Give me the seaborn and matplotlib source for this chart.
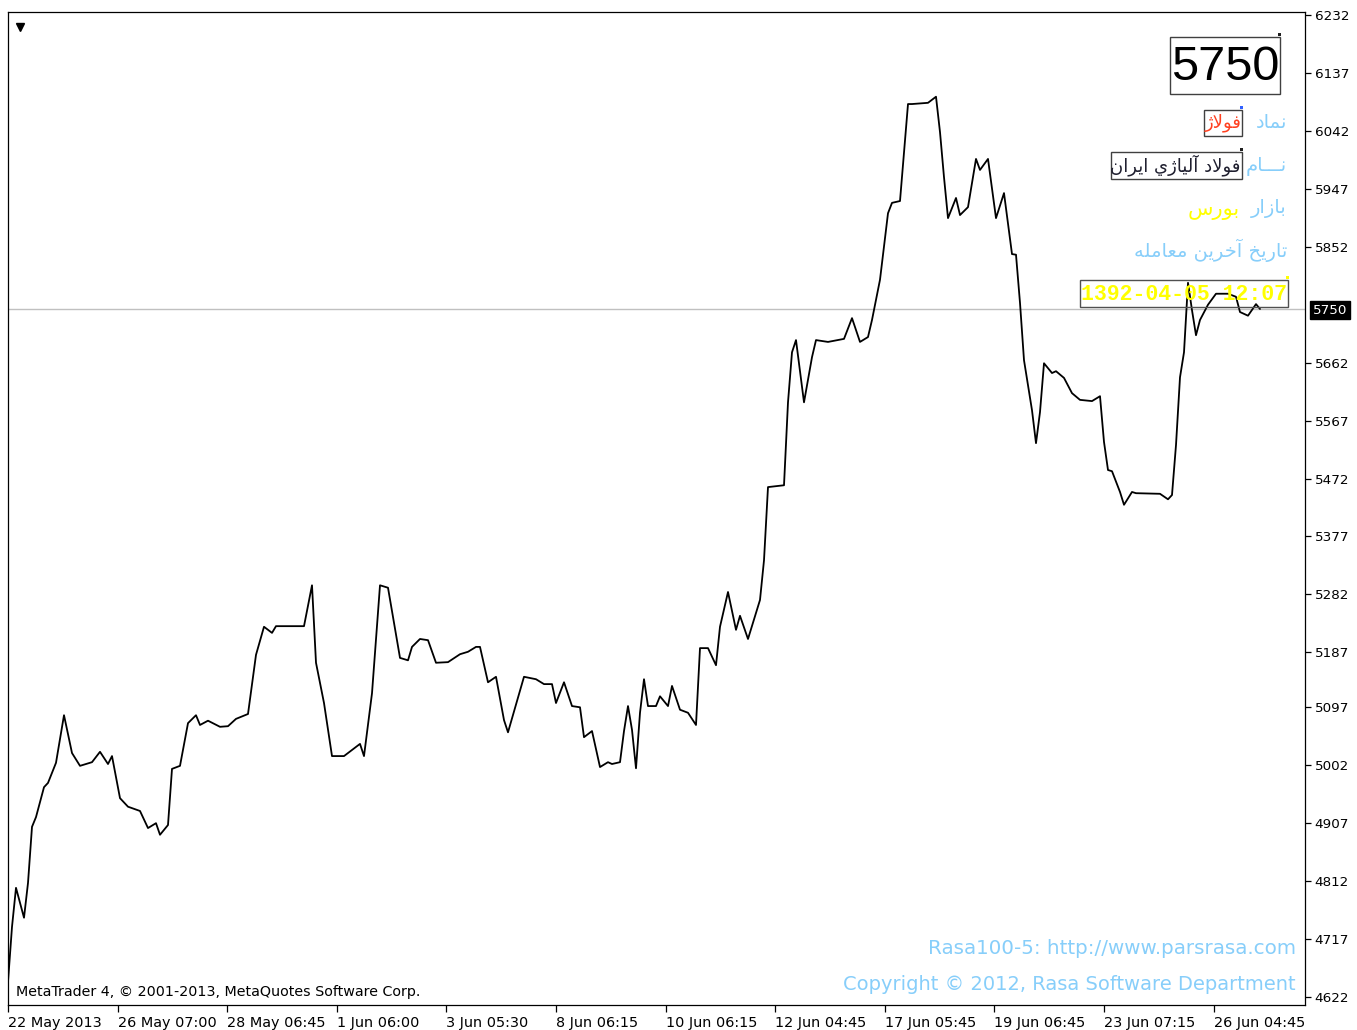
import numpy as np
import pandas as pd
import matplotlib
matplotlib.use("Agg")
import matplotlib.pyplot as plt
import matplotlib.patches as mpatches
import seaborn as sns

# داده‌ها: شماره کندل و قیمت بسته شدن (خوانده شده از تصویر)
bars = [0, 1, 2, 4, 5, 6, 7, 9, 10, 12, 14, 16, 18, 21, 23, 25, 26, 28, 30, 33,
        35, 37, 38, 40, 41, 43, 45, 47, 48, 50, 53, 55, 57, 60, 62, 64, 66, 67, 74, 76,
        77, 79, 81, 84, 88, 89, 91, 93, 95, 98, 100, 101, 103, 105, 107, 110, 113, 115, 117, 118,
        120, 122, 124, 125, 129, 132, 134, 136, 137, 139, 141, 143, 144, 146, 148, 150, 151, 153, 154, 155,
        156, 157, 158, 159, 160, 162, 163, 165, 166, 168, 170, 172, 173, 175, 177, 178, 180, 182, 183, 185,
        188, 189, 190, 194, 195, 196, 197, 199, 201, 202, 205, 209, 211, 213, 215, 216, 218, 220, 221, 223,
        225, 226, 230, 232, 233, 234, 235, 237, 238, 240, 242, 243, 245, 247, 249, 251, 252, 253, 254, 256,
        257, 258, 259, 261, 262, 264, 266, 268, 271, 273, 274, 275, 276, 278, 279, 281, 282, 288, 290, 291,
        292, 293, 294, 295, 296, 297, 298, 300, 302, 305, 307, 308, 310, 312, 313]
prices = [4647, 4737, 4801, 4752, 4809, 4901, 4917, 4966, 4973, 5006, 5084, 5022, 5001, 5007, 5024, 5004, 5017, 4948, 4934, 4927,
          4899, 4907, 4888, 4904, 4996, 5001, 5071, 5084, 5068, 5075, 5065, 5066, 5078, 5086, 5183, 5229, 5219, 5230, 5230, 5297,
          5170, 5104, 5017, 5017, 5037, 5017, 5120, 5297, 5293, 5178, 5174, 5196, 5209, 5207, 5170, 5171, 5184, 5188, 5196, 5196,
          5138, 5147, 5076, 5056, 5147, 5143, 5135, 5135, 5104, 5138, 5099, 5097, 5048, 5058, 4999, 5007, 5004, 5007, 5058, 5099,
          5060, 4997, 5088, 5143, 5099, 5099, 5115, 5099, 5132, 5093, 5088, 5068, 5194, 5194, 5166, 5229, 5286, 5224, 5247, 5209,
          5273, 5338, 5458, 5461, 5597, 5679, 5699, 5597, 5671, 5699, 5696, 5701, 5735, 5696, 5704, 5732, 5798, 5907, 5924, 5927,
          6086, 6086, 6088, 6098, 6040, 5966, 5899, 5932, 5904, 5917, 5996, 5978, 5996, 5899, 5940, 5840, 5839, 5760, 5666, 5584,
          5530, 5581, 5661, 5645, 5648, 5637, 5612, 5601, 5599, 5607, 5532, 5486, 5484, 5450, 5429, 5450, 5448, 5447, 5438, 5445,
          5527, 5638, 5679, 5793, 5748, 5707, 5732, 5757, 5775, 5775, 5770, 5745, 5739, 5758, 5750]
last_price = 5750

y_ticks = [6232, 6137, 6042, 5947, 5852, 5662, 5567, 5472, 5377, 5282, 5187, 5097, 5002, 4907, 4812, 4717, 4622]
x_tick_labels = ["22 May 2013", "26 May 07:00", "28 May 06:45", "1 Jun 06:00", "3 Jun 05:30", "8 Jun 06:15",
                 "10 Jun 06:15", "12 Jun 04:45", "17 Jun 05:45", "19 Jun 06:45", "23 Jun 07:15", "26 Jun 04:45"]
x_tick_bars = np.arange(len(x_tick_labels)) * 27.4

# متن‌های پنل اطلاعات
symbol_label = "نماد"
symbol_value = "فولاژ"
name_label = "نـــام"
name_value = "فولاد آلياژي ايران"
market_label = "بازار"
market_value = "بورس"
date_label = "تاريخ آخرين معامله"
date_value = "1392-04-05 12:07"

# شکل‌دهی ساده حروف عربی/فارسی (matplotlib خودش حروف را نمی‌چسباند)
FORMS = {
    'ا': '\ufe8d\ufe8e', 'آ': '\ufe81\ufe82', 'د': '\ufea9\ufeaa', 'ر': '\ufead\ufeae',
    'ز': '\ufeaf\ufeb0', 'ژ': '\ufb8a\ufb8b', 'و': '\ufeed\ufeee',
    'ب': '\ufe8f\ufe90\ufe91\ufe92', 'ت': '\ufe95\ufe96\ufe97\ufe98', 'خ': '\ufea5\ufea6\ufea7\ufea8',
    'س': '\ufeb1\ufeb2\ufeb3\ufeb4', 'ع': '\ufec9\ufeca\ufecb\ufecc', 'ف': '\ufed1\ufed2\ufed3\ufed4',
    'ل': '\ufedd\ufede\ufedf\ufee0', 'م': '\ufee1\ufee2\ufee3\ufee4', 'ن': '\ufee5\ufee6\ufee7\ufee8',
    'ه': '\ufee9\ufeea\ufeeb\ufeec', 'ي': '\ufef1\ufef2\ufef3\ufef4', 'ـ': 'ـ' * 4,
}
LAM_ALEF = {'ا': '\ufefb\ufefc', 'آ': '\ufef5\ufef6'}


def shape(text):
    out = []
    i = 0
    prev_joins = False
    while i < len(text):
        c = text[i]
        nxt = text[i + 1] if i + 1 < len(text) else ''
        if c == 'ل' and nxt in LAM_ALEF:
            out.append(LAM_ALEF[nxt][1 if prev_joins else 0])
            prev_joins = False
            i += 2
            continue
        if c not in FORMS:
            out.append(c)
            prev_joins = False
            i += 1
            continue
        f = FORMS[c]
        next_joins = len(f) == 4 and nxt in FORMS
        if prev_joins and next_joins:
            g = f[3]
        elif prev_joins:
            g = f[1]
        elif next_joins:
            g = f[2]
        else:
            g = f[0]
        out.append(g)
        prev_joins = next_joins
        i += 1
    return ''.join(reversed(out))


W, H = 1357, 1030


def px(x, y):
    return x / W, 1 - y / H


def box(fig, x0, y0, x1, y1, color="#505050", anchor="black"):
    r = mpatches.Rectangle(px(x0, y1), (x1 - x0) / W, (y1 - y0) / H, transform=fig.transFigure,
                           fill=False, edgecolor=color, linewidth=1.0)
    fig.add_artist(r)
    # نقطه لنگر کوچک گوشه بالا-راست شیء
    a = mpatches.Rectangle(px(x1 - 2, y0 - 1), 3 / W, 3 / H, transform=fig.transFigure,
                           facecolor=anchor, edgecolor="none")
    fig.add_artist(a)


sns.set_style("white")
plt.rcParams['font.family'] = ['DejaVu Sans']

fig = plt.figure(figsize=(W / 100, H / 100), dpi=100)
ax = fig.add_axes([8 / W, 25 / H, 1297 / W, 993 / H])

df = pd.DataFrame({"bar": bars, "price": prices})
ax.axhline(last_price, color="#c0c0c0", linewidth=1.0, zorder=1)
sns.lineplot(data=df, x="bar", y="price", color="black", linewidth=1.3, estimator=None, sort=False, ax=ax, zorder=3)

ax.set_xlim(0, 324.25)
ax.set_ylim(4608.9, 6236.9)
ax.set_xlabel("")
ax.set_ylabel("")

for s in ax.spines.values():
    s.set_color("black")
    s.set_linewidth(0.9)

ax.yaxis.tick_right()
ax.set_yticks(y_ticks)
ax.set_yticklabels([str(v) for v in y_ticks])
ax.set_xticks(x_tick_bars)
ax.set_xticklabels(x_tick_labels, ha="left")
ax.tick_params(axis="y", right=True, left=False, length=4, width=0.9, pad=3, labelsize=9.7, colors="black")
ax.tick_params(axis="x", bottom=True, length=5, width=0.9, pad=3, labelsize=10.4, colors="black")
for lab in ax.get_xticklabels():
    lab.set_horizontalalignment("left")

# برچسب قیمت فعلی روی محور راست
fig.text(*px(1313, 310), str(last_price), color="white", fontsize=9.7, ha="left", va="center",
         bbox=dict(boxstyle="square,pad=0.2", facecolor="black", edgecolor="black"))

# مثلث کوچک بالا-چپ
ax.plot([0.009], [0.985], marker="v", color="black", markersize=6, transform=ax.transAxes, clip_on=False)

# پنل اطلاعات بالا-راست
box(fig, 1170, 37, 1280, 94, color="#404040", anchor="#202020")
fig.text(*px(1225, 67), str(last_price), fontsize=35, family="Liberation Sans", color="black",
         ha="center", va="center")

lightblue = "#87cefa"
box(fig, 1204, 110, 1242, 136, color="#404040", anchor="#3060ff")
fig.text(*px(1223, 123), shape(symbol_value), fontsize=13, color="#ff4020", ha="center", va="center")
fig.text(*px(1287, 123), shape(symbol_label), fontsize=14, color=lightblue, ha="right", va="center")

box(fig, 1111, 152, 1242, 179, color="#404040", anchor="#202020")
fig.text(*px(1240, 165), shape(name_value), fontsize=13, color="#202030", ha="right", va="center")
fig.text(*px(1287, 166), shape(name_label), fontsize=14, color=lightblue, ha="right", va="center")

fig.text(*px(1287, 209), shape(market_label), fontsize=14, color=lightblue, ha="right", va="center")
fig.text(*px(1240, 210), shape(market_value), fontsize=15, color="#ffff00", ha="right", va="center")

fig.text(*px(1287, 250), shape(date_label), fontsize=14, color=lightblue, ha="right", va="center")

box(fig, 1080, 280, 1288, 307, color="#505050", anchor="#ffff00")
fig.text(*px(1184, 294), date_value, fontsize=15.5, family="Liberation Mono", fontweight="bold",
         color="#ffff00", ha="center", va="center")

# متن‌های پایین
fig.text(*px(16, 992), "MetaTrader 4, © 2001-2013, MetaQuotes Software Corp.", fontsize=10.3,
         color="black", ha="left", va="center")
fig.text(*px(1296, 949), "Rasa100-5: http://www.parsrasa.com", fontsize=14.3, color=lightblue,
         ha="right", va="center")
fig.text(*px(1296, 984), "Copyright © 2012, Rasa Software Department", fontsize=14, color=lightblue,
         ha="right", va="center")

fig.savefig("out.png", dpi=100, facecolor="white")
